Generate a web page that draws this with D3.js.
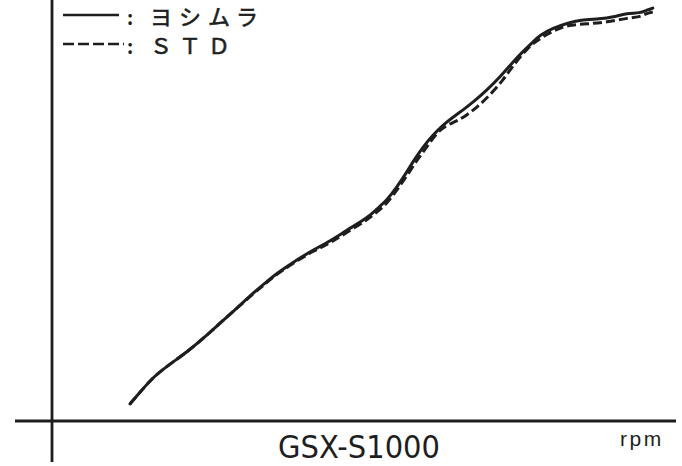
<!DOCTYPE html>
<html>
<head>
<meta charset="utf-8">
<script src="https://cdn.jsdelivr.net/npm/d3@7"></script>
<style>
  html, body { margin: 0; padding: 0; background: #fff; }
  svg { display: block; }
</style>
</head>
<body>
<script>
// ---- data ----
const rpmYoshimura = [1750, 2020, 2270, 2650, 3030, 3430, 3770, 4150, 4510, 4780, 5050, 5450, 5860, 6240, 6620, 7070, 7290, 7520, 7740, 7960, 8140, 8320, 8550, 8770, 9000, 9220, 9450, 9760, 10050, 10340, 10550, 10790, 10950, 11240, 11560, 11850, 12300, 12590, 12900, 13190, 13350, 13480];
const hpYoshimura  = [6.5, 11.8, 16.7, 21.7, 26.2, 31.9, 37.2, 42.9, 48.6, 52.4, 56.2, 60.8, 65.0, 68.4, 72.6, 77.1, 80.6, 84.0, 88.9, 94.6, 99.6, 104.1, 108.7, 112.5, 115.5, 118.2, 121.2, 125.8, 130.7, 136.4, 140.2, 144.0, 146.7, 149.3, 151.2, 152.4, 152.8, 153.5, 155.0, 155.0, 156.2, 156.9];

const rpmSTD = [1750, 2020, 2270, 2650, 3030, 3430, 3770, 4150, 4510, 4780, 5050, 5450, 5860, 6240, 6620, 7070, 7290, 7520, 7740, 7960, 8190, 8410, 8640, 8860, 9090, 9310, 9540, 9830, 10120, 10320, 10660, 10950, 11240, 11560, 12000, 12450, 12900, 13190, 13350, 13480];
const hpSTD  = [6.5, 11.8, 16.7, 21.7, 26.2, 31.9, 37.2, 42.9, 48.3, 52.1, 55.9, 60.4, 64.6, 67.6, 71.8, 76.4, 79.4, 82.8, 87.8, 93.1, 99.2, 104.1, 109.8, 112.5, 114.0, 116.3, 119.3, 123.9, 129.6, 134.5, 141.7, 145.5, 148.2, 150.5, 150.9, 151.6, 153.1, 153.5, 155.0, 155.4];

const legendLabels = ["ヨシムラ", "ＳＴＤ"];
const modelName = "GSX-S1000";
const xUnit = "rpm";

// ---- layout ----
const W = 682, H = 466;
const ink = "#1e1e1e";

const svg = d3.select("body").append("svg")
  .attr("width", W).attr("height", H);

const x = d3.scaleLinear().domain([0, 14000]).range([52, 676]);
const y = d3.scaleLinear().domain([0, 160]).range([421, 0]);

// axes
const xAxis = d3.axisBottom(x).ticks(0).tickSize(0).tickSizeOuter(0);
const gx = svg.append("g").attr("transform", `translate(0,${y(0)})`).call(xAxis);
gx.select(".domain").remove();
gx.append("line")
  .attr("x1", 15).attr("x2", x.range()[1])
  .attr("stroke", ink).attr("stroke-width", 2.8);

const yAxis = d3.axisLeft(y).ticks(0).tickSize(0).tickSizeOuter(0);
const gy = svg.append("g").attr("transform", `translate(${x(0)},0)`).call(yAxis);
gy.select(".domain").remove();
gy.append("line")
  .attr("y1", 0).attr("y2", 462)
  .attr("stroke", ink).attr("stroke-width", 2.8);

// curves
const line = d3.line()
  .x(d => x(d[0])).y(d => y(d[1]))
  .curve(d3.curveBasis);

const stdData = rpmSTD.map((r, i) => [r, hpSTD[i]]);
const yosData = rpmYoshimura.map((r, i) => [r, hpYoshimura[i]]);

svg.append("path").datum(stdData)
  .attr("d", line).attr("fill", "none")
  .attr("stroke", ink).attr("stroke-width", 3)
  .attr("stroke-dasharray", "9,4")
  .attr("stroke-linecap", "butt");

svg.append("path").datum(yosData)
  .attr("d", line).attr("fill", "none")
  .attr("stroke", ink).attr("stroke-width", 3)
  .attr("stroke-linecap", "round");

// legend
const jp = "'Noto Sans CJK JP', 'Noto Sans', sans-serif";
svg.append("line").attr("x1", 63).attr("x2", 119).attr("y1", 15).attr("y2", 15)
  .attr("stroke", ink).attr("stroke-width", 2.5);
svg.append("line").attr("x1", 63).attr("x2", 124).attr("y1", 44).attr("y2", 44)
  .attr("stroke", ink).attr("stroke-width", 2.5).attr("stroke-dasharray", "11,4");

[25, 54].forEach((by, i) => {
  svg.append("text").attr("x", 127).attr("y", by)
    .attr("font-family", jp).attr("font-size", 19).attr("font-weight", 700)
    .attr("fill", ink)
    .text(":");
  svg.append("text").attr("x", 150).attr("y", by)
    .attr("font-family", jp).attr("font-size", 22).attr("font-weight", 400)
    .attr("fill", ink).attr("stroke", ink).attr("stroke-width", 0.6)
    .attr("letter-spacing", 7)
    .text(legendLabels[i]);
});

// model name
svg.append("text").attr("x", 278).attr("y", 458)
  .attr("font-family", "'DejaVu Sans', sans-serif").attr("font-size", 32)
  .attr("fill", ink)
  .attr("textLength", 162).attr("lengthAdjust", "spacingAndGlyphs")
  .text(modelName);

// unit
svg.append("text").attr("x", 620).attr("y", 446)
  .attr("font-family", "'Liberation Sans', Arial, sans-serif").attr("font-size", 21)
  .attr("fill", ink).attr("letter-spacing", 2.5)
  .text(xUnit);
</script>
</body>
</html>
